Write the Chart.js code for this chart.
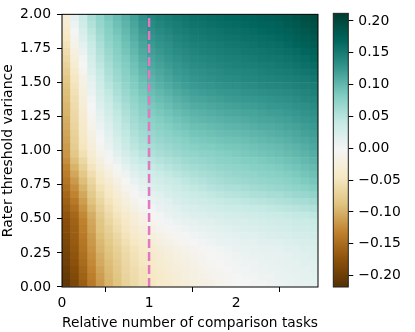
<!DOCTYPE html>
<html>
<head>
<meta charset="utf-8">
<script src="https://cdn.jsdelivr.net/npm/chart.js@4.4.1/dist/chart.umd.min.js"></script>
<style>
  html, body { margin: 0; padding: 0; background: #fff; }
  #wrap { position: relative; width: 415px; height: 332px; }
  #main { position: absolute; left: 0; top: 0; }
  #cbar { position: absolute; left: 320px; top: 0; }
</style>
</head>
<body>
<div id="wrap">
  <canvas id="main" width="415" height="332"></canvas>
  <canvas id="cbar" width="95" height="332"></canvas>
</div>
<script>
// column centres (relative number of comparison tasks)
const xCenters = [0.049, 0.147, 0.245, 0.343, 0.441, 0.539, 0.637, 0.735, 0.833, 0.931,
                  1.029, 1.127, 1.225, 1.323, 1.421, 1.519, 1.617, 1.715, 1.813, 1.911,
                  2.009, 2.107, 2.205, 2.303, 2.401, 2.499, 2.597, 2.695, 2.793, 2.891];
// row centres (rater threshold variance)
const yCenters = [0.025, 0.075, 0.125, 0.175, 0.225, 0.275, 0.325, 0.375, 0.425, 0.475,
                  0.525, 0.575, 0.625, 0.675, 0.725, 0.775, 0.825, 0.875, 0.925, 0.975,
                  1.025, 1.075, 1.125, 1.175, 1.225, 1.275, 1.325, 1.375, 1.425, 1.475,
                  1.525, 1.575, 1.625, 1.675, 1.725, 1.775, 1.825, 1.875, 1.925, 1.975];

// cell values in thousandths, one row per yCenters entry (bottom to top)
const cells = [
  [-208,-188,-163,-138,-116,-99,-87,-71,-62,-54,-47,-41,-36,-31,-27,-23,-19,-15,-11,-7,-4,-2,0,2,4,6,8,10,11,13],
  [-205,-184,-159,-135,-113,-96,-84,-69,-60,-52,-45,-39,-33,-28,-24,-20,-16,-12,-8,-5,-2,0,2,4,5,7,9,11,12,14],
  [-201,-180,-155,-131,-109,-94,-82,-67,-58,-50,-43,-37,-31,-26,-22,-18,-14,-10,-6,-3,0,2,4,6,7,9,11,13,14,16],
  [-197,-176,-151,-127,-105,-92,-79,-65,-55,-47,-41,-34,-29,-24,-19,-15,-11,-7,-4,0,2,4,5,7,9,10,12,14,16,18],
  [-194,-172,-147,-124,-102,-89,-76,-63,-53,-45,-39,-32,-26,-21,-16,-12,-8,-4,-1,2,4,6,7,9,10,11,13,15,17,19],
  [-190,-169,-144,-120,-98,-86,-73,-60,-50,-41,-35,-28,-22,-17,-12,-8,-5,-1,2,5,7,9,10,12,13,14,16,18,20,22],
  [-187,-166,-141,-117,-95,-81,-68,-55,-45,-36,-29,-22,-16,-11,-7,-3,1,4,7,9,11,13,14,16,17,18,20,22,24,26],
  [-184,-164,-138,-114,-91,-77,-64,-51,-40,-31,-23,-17,-11,-6,-1,3,6,9,11,14,15,17,18,20,22,23,25,27,28,30],
  [-180,-162,-135,-110,-87,-72,-59,-47,-35,-26,-17,-11,-5,0,5,8,11,13,15,18,19,21,22,24,26,27,29,31,32,34],
  [-177,-159,-132,-107,-84,-67,-54,-42,-30,-21,-11,-5,1,6,10,13,16,18,20,22,23,25,26,28,30,31,33,35,36,38],
  [-172,-154,-127,-102,-79,-62,-49,-37,-25,-15,-5,1,7,12,16,19,21,23,25,28,29,31,32,34,36,37,39,41,42,45],
  [-166,-147,-120,-95,-72,-56,-43,-30,-18,-8,1,7,12,17,22,25,27,30,32,35,36,38,39,41,43,45,47,49,51,54],
  [-160,-139,-113,-88,-66,-51,-37,-24,-12,-2,7,13,18,23,28,31,34,37,39,42,43,45,47,49,51,53,55,58,60,63],
  [-154,-131,-106,-81,-60,-45,-31,-18,-5,4,13,18,24,29,33,37,40,43,46,49,50,52,55,57,59,60,63,66,68,72],
  [-148,-124,-99,-74,-53,-39,-25,-11,2,11,19,24,29,34,39,43,46,50,53,56,57,59,62,64,66,68,71,74,77,81],
  [-142,-116,-91,-66,-46,-32,-18,-4,9,18,26,30,35,40,45,49,52,56,59,62,64,66,68,70,72,74,77,80,84,88],
  [-136,-107,-82,-57,-38,-24,-9,4,17,25,33,37,42,47,51,55,58,61,64,67,69,71,73,75,77,79,82,85,89,93],
  [-130,-99,-73,-49,-30,-16,-1,13,25,33,40,44,49,53,58,61,64,67,70,72,74,76,78,80,82,84,87,90,94,98],
  [-124,-91,-64,-41,-22,-7,7,21,32,41,47,51,55,59,64,67,69,72,75,77,79,81,83,85,87,89,92,95,99,103],
  [-118,-82,-55,-32,-14,1,16,29,40,48,54,58,62,66,70,73,75,77,80,82,84,86,88,90,92,94,97,100,104,108],
  [-114,-77,-48,-26,-8,7,22,35,46,54,59,63,67,71,75,79,81,83,85,87,88,90,92,94,96,98,101,104,108,112],
  [-111,-74,-45,-22,-3,12,26,39,50,58,64,68,72,76,80,84,86,88,90,92,93,95,97,99,101,103,106,109,112,116],
  [-108,-71,-42,-18,1,16,31,43,54,62,68,73,77,81,85,89,91,93,95,97,98,100,102,104,106,108,110,113,117,120],
  [-105,-68,-39,-14,6,21,35,47,58,66,73,77,81,86,90,94,96,98,100,102,103,105,107,109,110,112,115,117,121,124],
  [-102,-65,-36,-10,10,25,39,51,62,70,77,82,86,91,95,99,101,103,105,107,108,110,112,114,115,117,119,122,125,128],
  [-99,-63,-32,-6,15,30,43,55,65,75,82,86,91,96,100,104,106,108,110,112,113,115,116,118,120,121,124,126,129,132],
  [-96,-60,-29,-2,19,34,47,59,69,79,86,91,96,101,105,109,111,113,115,117,118,120,121,123,125,126,128,131,133,136],
  [-93,-57,-26,2,24,39,52,63,73,83,91,96,100,106,110,114,116,118,120,122,123,125,126,128,129,131,133,135,138,140],
  [-90,-54,-23,6,28,43,56,67,77,87,95,100,105,111,115,119,121,123,125,127,128,130,131,133,134,135,137,139,142,144],
  [-87,-51,-20,10,33,48,60,71,81,91,100,105,110,116,120,124,126,128,130,132,133,135,136,138,139,140,142,144,146,148],
  [-82,-47,-15,14,37,52,64,75,85,95,104,109,114,120,124,128,130,132,134,136,137,139,140,142,143,144,146,148,150,153],
  [-76,-40,-9,19,41,56,67,78,89,99,108,113,118,124,127,131,133,135,137,139,140,142,143,145,147,148,150,152,155,158],
  [-70,-34,-4,24,45,60,71,82,92,103,112,117,122,127,131,135,137,139,141,143,144,146,147,149,150,152,154,157,160,163],
  [-64,-27,2,29,49,63,75,85,96,107,116,121,126,131,135,138,140,142,144,146,147,149,151,153,154,155,158,161,164,168],
  [-58,-21,8,34,53,67,78,89,100,111,120,125,130,135,138,142,144,146,148,150,151,153,154,156,158,159,162,165,169,173],
  [-52,-14,14,38,57,71,82,92,103,114,124,129,133,138,142,145,147,149,151,153,154,156,158,160,161,163,166,170,174,178],
  [-46,-8,20,43,61,75,85,96,107,118,128,133,137,142,145,149,151,153,155,157,158,160,161,163,165,167,170,174,179,183],
  [-40,-1,26,48,65,79,89,99,111,122,132,137,141,146,149,152,154,156,158,160,161,163,165,167,169,171,174,178,183,188],
  [-34,5,31,53,69,82,93,103,114,126,136,141,145,149,153,156,158,160,162,164,165,167,169,171,172,174,178,183,188,193],
  [-28,12,37,58,73,86,96,106,118,130,140,145,149,153,156,159,161,163,165,167,168,170,172,174,176,178,182,187,193,198]
];

const xTicks = [0, 1, 2];
const yTicks = [0, 0.25, 0.5, 0.75, 1, 1.25, 1.5, 1.75, 2];
const cbarTicks = [-0.2, -0.15, -0.1, -0.05, 0, 0.05, 0.1, 0.15, 0.2];
const refLineX = 1;
const vMin = -0.218, vMax = 0.212;

// BrBG colormap
const brbg = ['#543005', '#8c510a', '#bf812d', '#dfc27d', '#f6e8c3', '#f5f5f5',
              '#c7eae5', '#80cdc1', '#35978f', '#01665e', '#003c30'];

function hexRgb(h) {
  return [parseInt(h.slice(1, 3), 16), parseInt(h.slice(3, 5), 16), parseInt(h.slice(5, 7), 16)];
}

function colorFor(v) {
  let t = (v - vMin) / (vMax - vMin);
  t = Math.max(0, Math.min(1, t));
  const s = t * (brbg.length - 1);
  const i = Math.min(Math.floor(s), brbg.length - 2);
  const f = s - i;
  const a = hexRgb(brbg[i]), b = hexRgb(brbg[i + 1]);
  const c = a.map((ch, k) => Math.round(ch + (b[k] - ch) * f));
  return `rgb(${c[0]},${c[1]},${c[2]})`;
}

const font = { family: "'DejaVu Sans', sans-serif", size: 13.9 };
const halfW = (xCenters[1] - xCenters[0]) / 2;
const halfH = (yCenters[1] - yCenters[0]) / 2;

const cellSets = cells.map((row, j) => ({
  type: "bar",
  data: xCenters.map(x => ({ x: x, y: [yCenters[j] - halfH, yCenters[j] + halfH] })),
  backgroundColor: row.map(v => colorFor(v / 1000)),
  borderWidth: 0,
  grouped: false,
  barPercentage: 1,
  categoryPercentage: 1,
  order: 1
}));

const refLine = {
  type: "line",
  data: [{ x: refLineX, y: 0 }, { x: refLineX, y: 2 }],
  borderColor: "#e377c2",
  borderWidth: 2.5,
  borderDash: [9, 4],
  pointRadius: 0,
  order: 0
};

const framePlugin = {
  id: "frame",
  afterDatasetsDraw(chart) {
    const { ctx, chartArea: a } = chart;
    ctx.save();
    ctx.strokeStyle = "#000";
    ctx.lineWidth = 1;
    ctx.strokeRect(a.left, a.top, a.right - a.left, a.bottom - a.top);
    ctx.restore();
  }
};

new Chart(document.getElementById("main"), {
  type: "bar",
  data: { datasets: [...cellSets, refLine] },
  options: {
    responsive: false,
    animation: false,
    layout: { padding: { top: 6, right: 97, left: 0, bottom: 0 } },
    plugins: { legend: { display: false }, tooltip: { enabled: false } },
    scales: {
      x: {
        type: "linear",
        min: 0,
        max: 2.94,
        offset: false,
        afterBuildTicks: s => { s.ticks = xTicks.map(v => ({ value: v })); },
        afterFit: s => { s.height = 45; },
        grid: { drawOnChartArea: false, tickLength: 5, tickColor: "#000" },
        border: { display: false },
        ticks: { color: "#000", font: font, padding: 3, maxRotation: 0 },
        title: {
          display: true, text: "Relative number of comparison tasks", color: "#000",
          font: { family: font.family, size: 14.5 }, padding: { top: 0, bottom: 0 }
        }
      },
      y: {
        type: "linear",
        min: 0,
        max: 2,
        afterBuildTicks: s => { s.ticks = yTicks.map(v => ({ value: v })); },
        afterFit: s => { s.width = 62; },
        grid: { drawOnChartArea: false, tickLength: 5, tickColor: "#000" },
        border: { display: false },
        ticks: { color: "#000", font: font, padding: 6, callback: v => v.toFixed(2) },
        title: {
          display: true, text: "Rater threshold variance", color: "#000",
          font: { family: font.family, size: 14 }, padding: { top: 0, bottom: 0 }
        }
      }
    }
  },
  plugins: [framePlugin]
});

const gradientPlugin = {
  id: "gradient",
  beforeDatasetsDraw(chart) {
    const { ctx, chartArea: a, scales } = chart;
    const y0 = scales.y.getPixelForValue(vMin), y1 = scales.y.getPixelForValue(vMax);
    const g = ctx.createLinearGradient(0, y0, 0, y1);
    brbg.forEach((c, k) => g.addColorStop(k / (brbg.length - 1), c));
    ctx.save();
    ctx.fillStyle = g;
    ctx.fillRect(a.left, a.top, a.right - a.left, a.bottom - a.top);
    ctx.strokeStyle = "#222";
    ctx.lineWidth = 1;
    ctx.strokeRect(a.left, a.top, a.right - a.left, a.bottom - a.top);
    ctx.restore();
  }
};

new Chart(document.getElementById("cbar"), {
  type: "scatter",
  data: { datasets: [] },
  options: {
    responsive: false,
    animation: false,
    layout: { padding: { top: 6, right: 0, left: 13.3, bottom: 45 } },
    plugins: { legend: { display: false }, tooltip: { enabled: false } },
    scales: {
      x: { type: "linear", display: false, min: 0, max: 1 },
      y: {
        type: "linear",
        position: "right",
        min: vMin,
        max: vMax,
        afterBuildTicks: s => { s.ticks = cbarTicks.map(v => ({ value: v })); },
        afterFit: s => { s.width = 66.7; },
        grid: { drawOnChartArea: false, tickLength: 5, tickColor: "#000" },
        border: { display: false },
        ticks: {
          color: "#000",
          font: font,
          padding: 5,
          callback: v => (v < -1e-9 ? "\u2212" : "") + Math.abs(v).toFixed(2)
        }
      }
    }
  },
  plugins: [gradientPlugin]
});
</script>
</body>
</html>
